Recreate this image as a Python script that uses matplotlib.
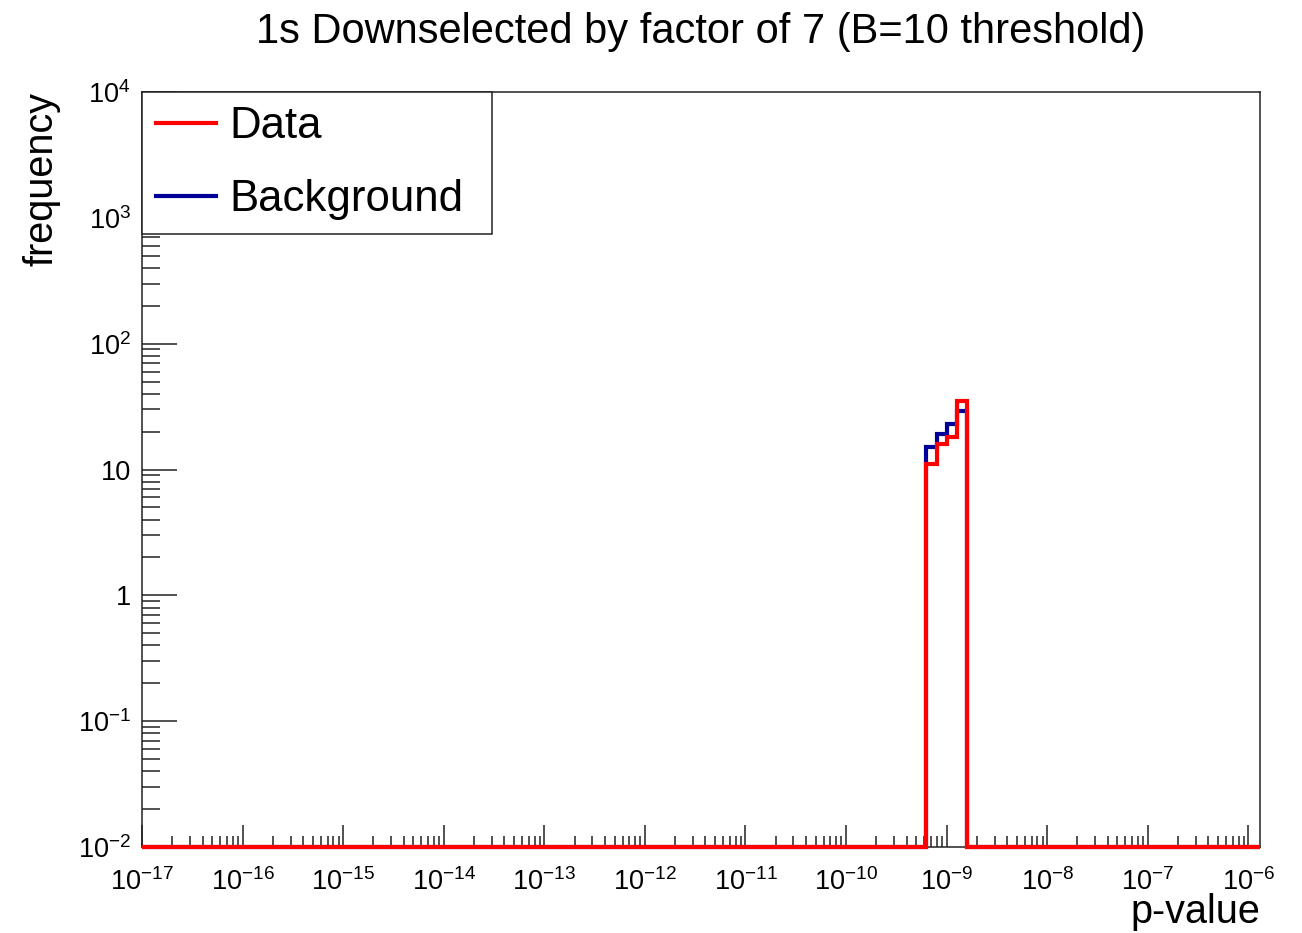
import numpy as np
import matplotlib
matplotlib.use('Agg')
import matplotlib.pyplot as plt
from matplotlib.lines import Line2D
from matplotlib.ticker import FixedLocator, LogLocator, NullFormatter

plt.rcParams['font.family'] = ['Liberation Sans', 'DejaVu Sans']
plt.rcParams['mathtext.fontset'] = 'custom'
plt.rcParams['mathtext.rm'] = 'Liberation Sans'
plt.rcParams['mathtext.it'] = 'Liberation Sans'
plt.rcParams['mathtext.bf'] = 'Liberation Sans'
plt.rcParams['mathtext.default'] = 'regular'

# histogram binning: 0.1 decade bins starting at 1e-17
log_lo = -17.0
log_hi = -5.884
bin_width = 0.1

# non-empty bins (everything else is zero)
peak_start = -9.2
data_counts = [11, 16, 18, 35]
bkg_counts = [15, 19, 23, 29]

x_ticks = [1e-17, 1e-16, 1e-15, 1e-14, 1e-13, 1e-12, 1e-11, 1e-10, 1e-9, 1e-8, 1e-7, 1e-6]
x_tick_labels = ['$10^{-17}$', '$10^{-16}$', '$10^{-15}$', '$10^{-14}$', '$10^{-13}$', '$10^{-12}$',
                 '$10^{-11}$', '$10^{-10}$', '$10^{-9}$', '$10^{-8}$', '$10^{-7}$', '$10^{-6}$']
y_ticks = [1e-2, 1e-1, 1, 10, 1e2, 1e3, 1e4]
y_tick_labels = ['$10^{-2}$', '$10^{-1}$', '1', '10', '$10^{2}$', '$10^{3}$', '$10^{4}$']

ymin, ymax = 1e-2, 1e4

n_bins = int(round((-6 - log_lo) / bin_width)) + 1
edges_log = log_lo + bin_width * np.arange(n_bins + 1)
edges_log[-1] = log_hi
edges = 10 ** edges_log
i0 = int(round((peak_start - log_lo) / bin_width))

data = np.zeros(n_bins)
bkg = np.zeros(n_bins)
data[i0:i0 + len(data_counts)] = data_counts
bkg[i0:i0 + len(bkg_counts)] = bkg_counts

fig = plt.figure(figsize=(13.02, 9.33), dpi=100)
ax = fig.add_axes([142 / 1302, 1 - 847 / 933, 1118 / 1302, 755 / 933])
ax.set_xscale('log')
ax.set_yscale('log')
ax.set_xlim(edges[0], edges[-1])
ax.set_ylim(ymin, ymax)

# empty bins sit on the frame bottom, like ROOT draws them
ax.stairs(np.maximum(bkg, ymin), edges, baseline=None, color='#000099', lw=3, clip_on=False, zorder=3)
ax.stairs(np.maximum(data, ymin), edges, baseline=None, color='red', lw=3, clip_on=False, zorder=4)

ax.xaxis.set_major_locator(FixedLocator(x_ticks))
ax.set_xticklabels(x_tick_labels)
ax.xaxis.set_minor_locator(LogLocator(base=10, subs=np.arange(2, 10), numticks=50))
ax.xaxis.set_minor_formatter(NullFormatter())
ax.yaxis.set_major_locator(FixedLocator(y_ticks))
ax.set_yticklabels(y_tick_labels)
ax.yaxis.set_minor_locator(LogLocator(base=10, subs=np.arange(2, 10), numticks=50))
ax.yaxis.set_minor_formatter(NullFormatter())

tc = '#222222'
ax.tick_params(axis='x', which='major', direction='in', length=16, width=1.1, color=tc,
               labelsize=19.5, pad=15, top=False)
ax.tick_params(axis='x', which='minor', direction='in', length=8, width=1.1, color=tc, top=False)
ax.tick_params(axis='y', which='major', direction='in', length=25, width=1.1, color=tc,
               labelsize=19.5, pad=8, right=False)
ax.tick_params(axis='y', which='minor', direction='in', length=13, width=1.1, color=tc, right=False)
for s in ax.spines.values():
    s.set_linewidth(1.1)
    s.set_color(tc)

ax.set_title('1s Downselected by factor of 7 (B=10 threshold)', fontsize=30, pad=35)
ax.set_xlabel('p-value', fontsize=28.5, loc='right', labelpad=-2)
ax.set_ylabel('frequency', fontsize=28.5, loc='top', labelpad=12)

handles = [Line2D([], [], color='red', lw=3), Line2D([], [], color='#000099', lw=3)]
leg = ax.legend(handles, ['Data', 'Background'], loc='upper left', fontsize=31.5,
                bbox_to_anchor=(0, 0.8, 350 / 1118, 0.2), mode='expand',
                borderaxespad=0, fancybox=False, framealpha=1, edgecolor=tc,
                handlelength=1.36, handletextpad=0.3, borderpad=0.33, labelspacing=0.72)
leg.get_frame().set_linewidth(1.1)

fig.savefig('out.png', dpi=100)
